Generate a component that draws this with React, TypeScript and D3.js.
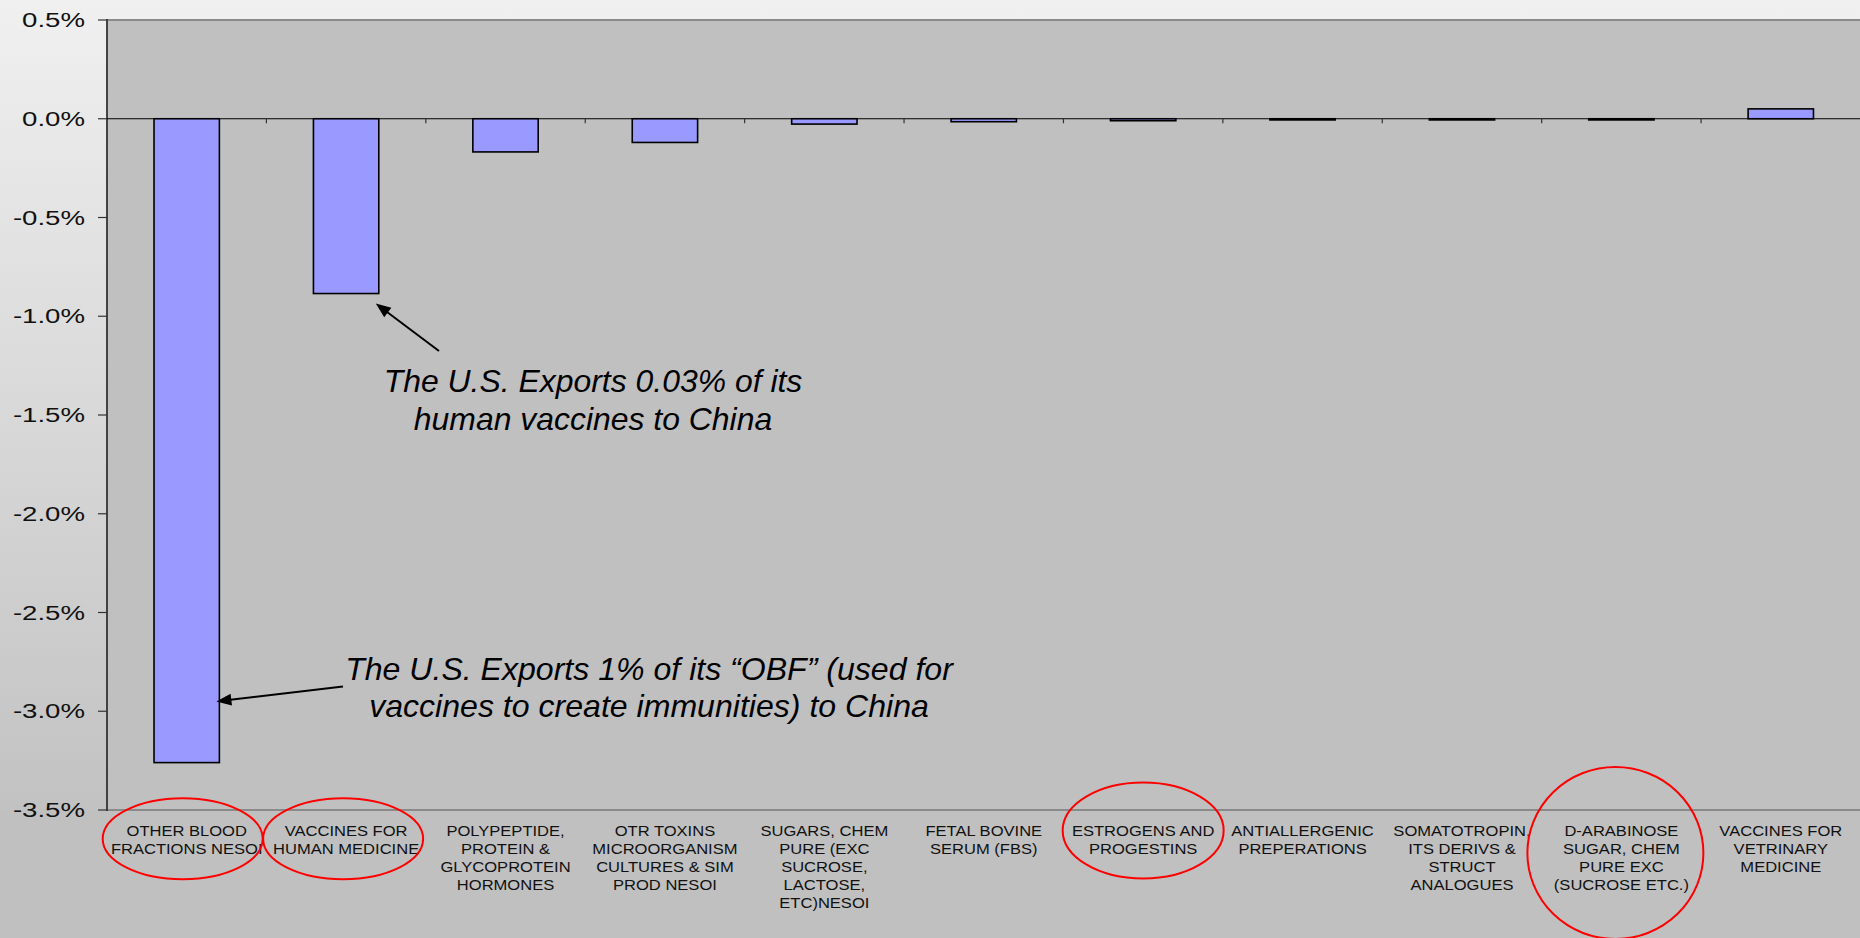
import React from "react";
import * as d3 from "d3";

const categories = [
  "OTHER BLOOD FRACTIONS NESOI",
  "VACCINES FOR HUMAN MEDICINE",
  "POLYPEPTIDE, PROTEIN & GLYCOPROTEIN HORMONES",
  "OTR TOXINS MICROORGANISM CULTURES & SIM PROD NESOI",
  "SUGARS, CHEM PURE (EXC SUCROSE, LACTOSE, ETC)NESOI",
  "FETAL BOVINE SERUM (FBS)",
  "ESTROGENS AND PROGESTINS",
  "ANTIALLERGENIC PREPERATIONS",
  "SOMATOTROPIN, ITS DERIVS & STRUCT ANALOGUES",
  "D-ARABINOSE SUGAR, CHEM PURE EXC (SUCROSE ETC.)",
  "VACCINES FOR VETRINARY MEDICINE",
];

const labelLines = [
  ["OTHER BLOOD", "FRACTIONS NESOI"],
  ["VACCINES FOR", "HUMAN MEDICINE"],
  ["POLYPEPTIDE,", "PROTEIN &", "GLYCOPROTEIN", "HORMONES"],
  ["OTR TOXINS", "MICROORGANISM", "CULTURES & SIM", "PROD NESOI"],
  ["SUGARS, CHEM", "PURE (EXC", "SUCROSE,", "LACTOSE,", "ETC)NESOI"],
  ["FETAL BOVINE", "SERUM (FBS)"],
  ["ESTROGENS AND", "PROGESTINS"],
  ["ANTIALLERGENIC", "PREPERATIONS"],
  ["SOMATOTROPIN,", "ITS DERIVS &", "STRUCT", "ANALOGUES"],
  ["D-ARABINOSE", "SUGAR, CHEM", "PURE EXC", "(SUCROSE ETC.)"],
  ["VACCINES FOR", "VETRINARY", "MEDICINE"],
];

// percent values
const values = [-3.26, -0.885, -0.168, -0.12, -0.027, -0.015, -0.01, -0.006, -0.006, -0.006, 0.05];

const yTicks = [0.5, 0.0, -0.5, -1.0, -1.5, -2.0, -2.5, -3.0, -3.5];

const noteHuman = ["The U.S. Exports 0.03% of its", "human vaccines to China"];
const noteOBF = ["The U.S. Exports 1% of its \u201cOBF\u201d (used for", "vaccines to create immunities) to China"];

// circled categories (index) with ellipse shape offsets
const circled = [
  { i: 0, dx: -4, cy: 838.7, rx: 80, ry: 40.5 },
  { i: 1, dx: -3, cy: 838.7, rx: 80, ry: 40.5 },
  { i: 6, dx: 0, cy: 830.5, rx: 80.5, ry: 48 },
  { i: 9, dx: -6, cy: 853, rx: 88, ry: 86 },
];

const W = 1860;
const H = 938;
const left = 107;
const top = 20;
const bottom = 810;
const right = 1860.5;

export default function App() {
  const x = d3.scaleBand<string>().domain(categories).range([left, right]).padding(0);
  const y = d3.scaleLinear().domain([-3.5, 0.5]).range([bottom, top]);
  const bw = x.bandwidth() * 0.41;
  const font = "'Liberation Sans', Arial, sans-serif";
  const y0 = y(0);

  const cx = (i: number) => (x(categories[i]) as number) + x.bandwidth() / 2;

  // arrows
  const a1Tip = [cx(1) + bw / 2 - 3, y(values[1]) + 10];
  const a1Tail = [439, 351];
  const a2Tip = [cx(0) + bw / 2 - 3, y(-2.95)];
  const a2Tail = [343, 686.5];

  const arrowHead = (tail: number[], tip: number[]) => {
    const ang = Math.atan2(tip[1] - tail[1], tip[0] - tail[0]);
    const L = 15, Wd = 6;
    const bx = tip[0] - L * Math.cos(ang);
    const by = tip[1] - L * Math.sin(ang);
    const px = -Math.sin(ang) * Wd, py = Math.cos(ang) * Wd;
    return `M${tip[0]},${tip[1]} L${bx + px},${by + py} L${bx - px},${by - py} Z`;
  };
  const lineEnd = (tail: number[], tip: number[]) => {
    const ang = Math.atan2(tip[1] - tail[1], tip[0] - tail[0]);
    return [tip[0] - 12 * Math.cos(ang), tip[1] - 12 * Math.sin(ang)];
  };

  return (
    <svg width={W} height={H} style={{ position: "absolute", left: 0, top: 0, display: "block" }}>
      <defs>
        <linearGradient id="bg" x1="0" y1="0" x2="0" y2="1">
          <stop offset="0" stopColor="#f0f0f0" />
          <stop offset="0.9" stopColor="#c0c0c0" />
          <stop offset="1" stopColor="#c0c0c0" />
        </linearGradient>
      </defs>
      <rect x={0} y={0} width={W} height={H} fill="url(#bg)" />
      <rect x={0} y={bottom} width={W} height={H - bottom} fill="#c0c0c0" />
      <rect x={left} y={top} width={right - left} height={bottom - top} fill="#c0c0c0" />
      {/* plot border */}
      <line x1={left} x2={W} y1={top} y2={top} stroke="#8a8a8a" strokeWidth={2} />
      <line x1={left} x2={W} y1={bottom} y2={bottom} stroke="#8a8a8a" strokeWidth={2} />

      {/* y ticks and labels */}
      {yTicks.map((t) => (
        <g key={t}>
          <line x1={98} x2={left} y1={y(t)} y2={y(t)} stroke="#333" strokeWidth={1.2} />
          <text
            transform={`translate(85,${y(t) + 7.2}) scale(1.38,1)`}
            textAnchor="end"
            fontFamily={font}
            fontSize={20}
            fill="#111"
          >
            {t.toFixed(1)}%
          </text>
        </g>
      ))}
      <line x1={left} x2={left} y1={top - 1} y2={bottom + 1} stroke="#333" strokeWidth={1.8} />

      {/* zero line with category ticks */}
      <line x1={left} x2={W} y1={y0} y2={y0} stroke="#000" strokeWidth={1.2} />
      {categories.map((c, i) =>
        i === 0 ? null : (
          <line key={c} x1={x(c) as number} x2={x(c) as number} y1={y0} y2={y0 + 4.5} stroke="#333" strokeWidth={1.2} />
        )
      )}

      {/* bars */}
      {categories.map((c, i) => {
        const v = values[i];
        const ya = Math.min(y(v), y0);
        const h = Math.max(Math.abs(y(v) - y0), 0.6);
        return (
          <rect
            key={c}
            x={cx(i) - bw / 2}
            y={ya}
            width={bw}
            height={h}
            fill="#9999ff"
            stroke="#000"
            strokeWidth={1.6}
          />
        );
      })}

      {/* category labels */}
      {labelLines.map((lines, i) => (
        <g key={i}>
          {lines.map((ln, j) => (
            <text
              key={j}
              transform={`translate(${cx(i)},${835.5 + j * 18.2}) scale(1.15,1)`}
              textAnchor="middle"
              fontFamily={font}
              fontSize={14.4}
              fill="#111"
            >
              {ln}
            </text>
          ))}
        </g>
      ))}

      {/* red ellipses */}
      {circled.map((e) => (
        <ellipse key={e.i} cx={cx(e.i) + e.dx} cy={e.cy} rx={e.rx} ry={e.ry} fill="none" stroke="#ff0000" strokeWidth={2} />
      ))}

      {/* annotations */}
      {noteHuman.map((ln, j) => (
        <text key={ln} transform={`translate(593,${391.7 + j * 38.3}) scale(1.03,1)`} textAnchor="middle" fontFamily={font} fontStyle="italic" fontSize={31} fill="#000">
          {ln}
        </text>
      ))}
      {noteOBF.map((ln, j) => (
        <text key={ln} transform={`translate(649,${680 + j * 37}) scale(1.035,1)`} textAnchor="middle" fontFamily={font} fontStyle="italic" fontSize={31} fill="#000">
          {ln}
        </text>
      ))}
      {(() => {
        const e1 = lineEnd(a1Tail, a1Tip);
        const e2 = lineEnd(a2Tail, a2Tip);
        return (
          <g>
            <line x1={a1Tail[0]} y1={a1Tail[1]} x2={e1[0]} y2={e1[1]} stroke="#000" strokeWidth={2} />
            <path d={arrowHead(a1Tail, a1Tip)} fill="#000" />
            <line x1={a2Tail[0]} y1={a2Tail[1]} x2={e2[0]} y2={e2[1]} stroke="#000" strokeWidth={2} />
            <path d={arrowHead(a2Tail, a2Tip)} fill="#000" />
          </g>
        );
      })()}
    </svg>
  );
}
